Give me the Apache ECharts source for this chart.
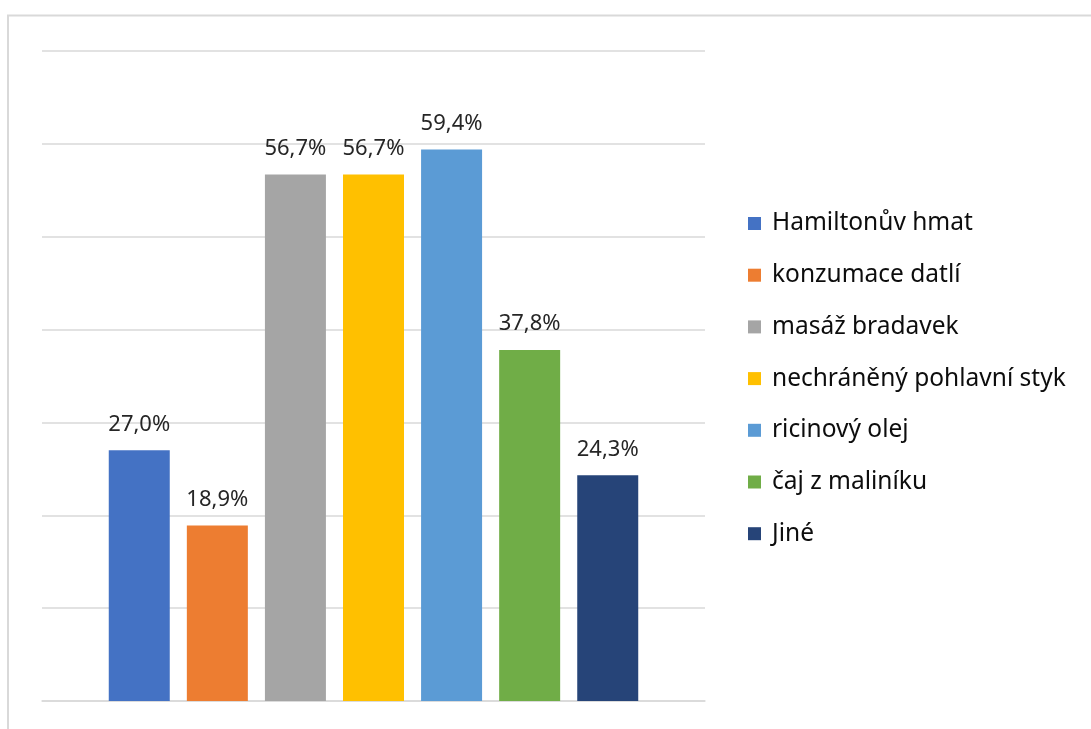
<!DOCTYPE html>
<html>
<head>
<meta charset="utf-8">
<script src="https://cdn.jsdelivr.net/npm/echarts@6/dist/echarts.min.js"></script>
<style>
html,body{margin:0;padding:0;background:#fff;}
#chart{width:1091px;height:729px;}
</style>
</head>
<body>
<div id="chart"></div>
<script>
const seriesNames = ['Hamiltonův hmat','konzumace datlí','masáž bradavek','nechráněný pohlavní styk','ricinový olej','čaj z maliníku','Jiné'];
const seriesValues = [27.0, 18.9, 56.7, 56.7, 59.4, 37.8, 24.3];
const seriesColors = ['#4472C4','#ED7D31','#A5A5A5','#FFC000','#5B9BD5','#70AD47','#264478'];
const categories = [''];

const chart = echarts.init(document.getElementById('chart'));
const fontFam = '"Noto Sans", "DejaVu Sans", sans-serif';
chart.setOption({
  animation: false,
  backgroundColor: '#fff',
  graphic: [{
    type: 'rect',
    shape: {x: 8, y: 15.5, width: 1200, height: 800},
    style: {fill: 'none', stroke: '#d9d9d9', lineWidth: 2},
    silent: true
  }],
  grid: {left: 42, right: 386, top: 51, bottom: 28, containLabel: false},
  legend: {
    orient: 'vertical',
    left: 748,
    top: 211,
    padding: 0,
    itemWidth: 13,
    itemHeight: 13,
    itemGap: 26.7,
    icon: 'rect',
    textStyle: {fontFamily: fontFam, fontSize: 24.5, color: '#0d0d0d', padding: [0,0,0,6]},
    data: seriesNames
  },
  xAxis: {
    type: 'category',
    data: categories,
    axisLine: {show: true, lineStyle: {color: '#d9d9d9', width: 1.5}},
    axisTick: {show: false},
    axisLabel: {show: false}
  },
  yAxis: {
    type: 'value',
    min: 0, max: 70, interval: 10,
    axisLine: {show: false},
    axisTick: {show: false},
    axisLabel: {show: false},
    splitLine: {lineStyle: {color: '#d9d9d9', width: 1.5}}
  },
  series: seriesNames.map((name, i) => ({
    name: name,
    type: 'bar',
    barWidth: 61,
    barGap: '28%',
    itemStyle: {color: seriesColors[i]},
    label: {
      show: true,
      position: 'top',
      distance: 15,
      fontFamily: fontFam,
      fontSize: 22,
      color: '#262626',
      formatter: p => p.value.toFixed(1).replace('.', ',') + '%'
    },
    data: [seriesValues[i]]
  }))
});
</script>
</body>
</html>
